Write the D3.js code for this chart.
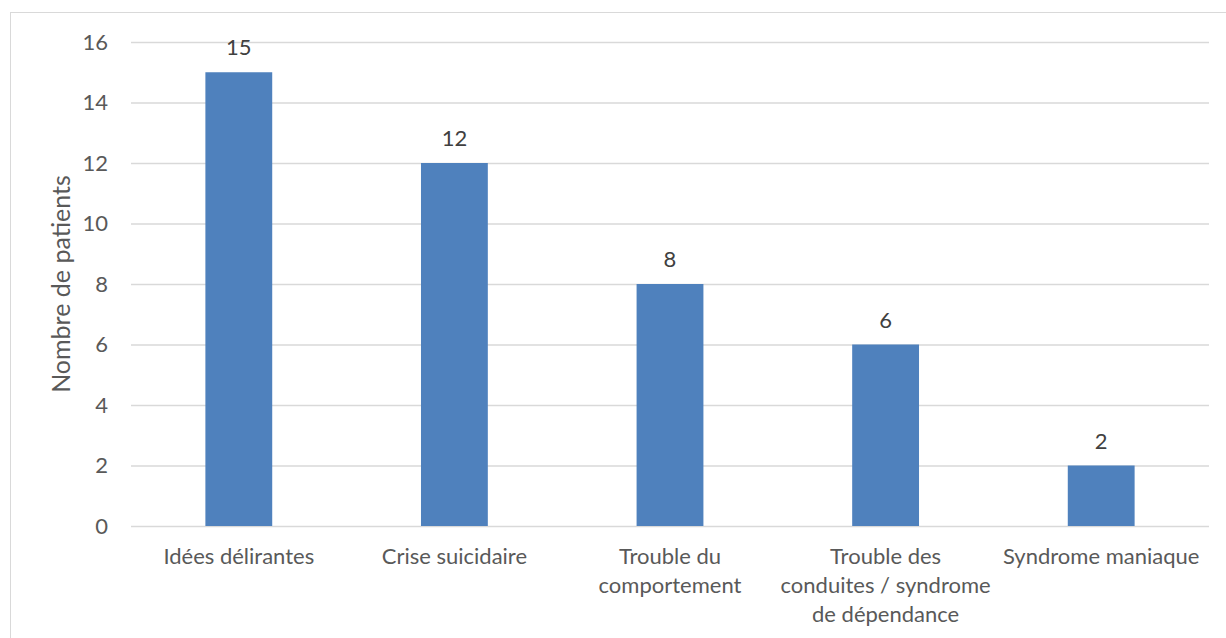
<!DOCTYPE html>
<html>
<head>
<meta charset="utf-8">
<script src="https://cdn.jsdelivr.net/npm/d3@7"></script>
<style>
  html, body { margin: 0; padding: 0; background: #fff; }
  svg { display: block; }
  text { font-family: Lato, "Open Sans", sans-serif; }
</style>
</head>
<body>
<svg id="chart" width="1226" height="638"></svg>
<script>
// Motifs de consultation
const categories = [
  ["Idées délirantes"],
  ["Crise suicidaire"],
  ["Trouble du", "comportement"],
  ["Trouble des", "conduites / syndrome", "de dépendance"],
  ["Syndrome maniaque"]
];
const values = [15, 12, 8, 6, 2];
const yTicks = [0, 2, 4, 6, 8, 10, 12, 14, 16];
const yTitle = "Nombre de patients";

const svg = d3.select("#chart");
const W = 1226, H = 638;
const plot = { left: 131, right: 1209, top: 42, bottom: 526 };
const fontSize = "22px";

// outer chart frame
svg.append("rect")
  .attr("x", 10.5).attr("y", 12.5)
  .attr("width", W + 20).attr("height", H + 20)
  .attr("fill", "#fff").attr("stroke", "#d9d9d9").attr("stroke-width", 1);

const x = d3.scaleBand()
  .domain(d3.range(values.length))
  .range([plot.left, plot.right])
  .padding(0);

const y = d3.scaleLinear().domain([0, 16]).range([plot.bottom, plot.top]);

// horizontal gridlines via the axis
const yAxis = d3.axisLeft(y)
  .tickValues(yTicks)
  .tickSize(-(plot.right - plot.left))
  .tickPadding(23)
  .tickFormat(d3.format("d"));

const gy = svg.append("g")
  .attr("transform", `translate(${plot.left},0)`)
  .call(yAxis);
gy.select(".domain").remove();
gy.selectAll(".tick line").attr("stroke", "#d9d9d9").attr("stroke-width", 1.3);
gy.selectAll(".tick text")
  .attr("fill", "#595959")
  .style("font-size", fontSize)
  .style("font-family", "Lato, 'Open Sans', sans-serif");

// bars
const barW = x.bandwidth() * 0.31;
svg.append("g").selectAll("rect")
  .data(values)
  .join("rect")
  .attr("x", (d, i) => x(i) + (x.bandwidth() - barW) / 2)
  .attr("y", d => y(d))
  .attr("width", barW)
  .attr("height", d => y(0) - y(d))
  .attr("fill", "#4f81bd");

// value labels
svg.append("g").selectAll("text")
  .data(values)
  .join("text")
  .attr("x", (d, i) => x(i) + x.bandwidth() / 2)
  .attr("y", d => y(d) - 17)
  .attr("text-anchor", "middle")
  .attr("fill", "#404040")
  .style("font-size", fontSize)
  .text(d => d);

// category labels
const cat = svg.append("g").selectAll("text")
  .data(categories)
  .join("text")
  .attr("x", (d, i) => x(i) + x.bandwidth() / 2)
  .attr("y", 564)
  .attr("text-anchor", "middle")
  .attr("fill", "#595959")
  .style("font-size", fontSize);
cat.selectAll("tspan")
  .data(d => d)
  .join("tspan")
  .attr("x", function () { return d3.select(this.parentNode).attr("x"); })
  .attr("dy", (d, i) => i === 0 ? 0 : 29)
  .text(d => d);

// axis title
svg.append("text")
  .attr("transform", `translate(70,${(plot.top + plot.bottom) / 2}) rotate(-90)`)
  .attr("text-anchor", "middle")
  .attr("fill", "#595959")
  .style("font-size", "25px")
  .text(yTitle);
</script>
</body>
</html>
